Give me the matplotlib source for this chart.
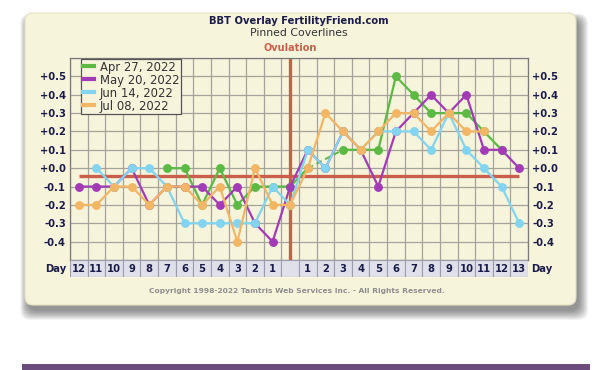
import matplotlib
matplotlib.use('Agg')
import matplotlib.pyplot as plt
import numpy as np
from matplotlib.patches import FancyBboxPatch, Rectangle
from matplotlib.lines import Line2D

nan = np.nan

# Day columns: 12 days before ovulation, ovulation day (blank), 13 days after
day_labels = ['12', '11', '10', '9', '8', '7', '6', '5', '4', '3', '2', '1', '',
              '1', '2', '3', '4', '5', '6', '7', '8', '9', '10', '11', '12', '13']
ov_index = 12

# Temperature offsets from coverline, per cycle
apr27 = [nan, nan, nan, nan, nan, 0.0, 0.0, -0.2, 0.0, -0.2, -0.1, -0.1,
         -0.1,
         0.0, nan, 0.1, 0.1, 0.1, 0.5, 0.4, 0.3, 0.3, 0.3, 0.2, 0.1, nan]
may20 = [-0.1, -0.1, -0.1, 0.0, -0.2, -0.1, -0.1, -0.1, -0.2, -0.1, -0.3, -0.4,
         -0.1,
         0.1, 0.0, 0.2, 0.1, -0.1, 0.2, 0.3, 0.4, 0.3, 0.4, 0.1, 0.1, 0.0]
jun14 = [nan, 0.0, -0.1, 0.0, 0.0, -0.1, -0.3, -0.3, -0.3, -0.3, -0.3, -0.1,
         -0.2,
         0.1, 0.0, 0.2, 0.1, 0.2, 0.2, 0.2, 0.1, 0.3, 0.1, 0.0, -0.1, -0.3]
jul08 = [-0.2, -0.2, -0.1, -0.1, -0.2, -0.1, -0.1, -0.2, -0.1, -0.4, 0.0, -0.2,
         -0.2,
         0.0, 0.3, 0.2, 0.1, 0.2, 0.3, 0.3, 0.2, 0.3, 0.2, 0.2, nan, nan]

series_names = ['Apr 27, 2022', 'May 20, 2022', 'Jun 14, 2022', 'Jul 08, 2022']
series_values = [apr27, may20, jun14, jul08]
series_colors = ['#5cb944', '#a23bb5', '#82d4f0', '#f2b665']

coverline = -0.045
y_ticks = [-0.5, -0.4, -0.3, -0.2, -0.1, 0.0, 0.1, 0.2, 0.3, 0.4, 0.5, 0.6]

cream = '#f7f4dc'
navy = '#1c1c4a'
red = '#c9604c'

fig = plt.figure(figsize=(6, 3.7), dpi=100)
fig.patch.set_facecolor('white')

# background layer in pixel coordinates
bg = fig.add_axes([0, 0, 1, 1])
bg.set_xlim(0, 600)
bg.set_ylim(370, 0)
bg.axis('off')

# soft drop shadow behind the card
for k in range(14):
    bg.add_patch(FancyBboxPatch((25 + 3 - k * 0.6, 13 + 6 - k * 0.4), 551 + k * 1.3, 292 + k * 1.1,
                                boxstyle='round,pad=0,rounding_size=10',
                                facecolor='black', edgecolor='none', alpha=0.035))
bg.add_patch(FancyBboxPatch((25, 13), 551, 292, boxstyle='round,pad=0,rounding_size=8',
                            facecolor=cream, edgecolor='#e4e0c4', lw=0.8))
bg.add_patch(Rectangle((22, 364), 568, 7, facecolor='#6c4c7c', edgecolor='none'))

bg.text(299, 21, 'BBT Overlay FertilityFriend.com', ha='center', va='center',
        fontsize=7.2, fontweight='bold', color=navy)
bg.text(299, 33, 'Pinned Coverlines', ha='center', va='center', fontsize=7.8, color='#333333')
bg.text(290, 48, 'Ovulation', ha='center', va='center', fontsize=7.0, fontweight='bold', color=red)
bg.text(297, 291, 'Copyright 1998-2022 Tamtris Web Services Inc. - All Rights Reserved.',
        ha='center', va='center', fontsize=5.4, fontweight='bold', color='#8e8e8e')

# main chart
ax = fig.add_axes([70 / 600, 1 - 260 / 370, 458 / 600, 202 / 370])
ax.set_facecolor(cream)
x = np.arange(len(day_labels))
ax.set_xlim(-0.5, len(day_labels) - 0.5)
ax.set_ylim(-0.5, 0.6)

for xv in np.arange(-0.5, len(day_labels), 1.0):
    ax.axvline(xv, color='#a4a49c', lw=0.9, zorder=0)
for yv in y_ticks:
    ax.axhline(yv, color='#a4a49c', lw=0.9, zorder=0)

ax.plot([x[0], x[-1]], [coverline, coverline], color=red, lw=2.4, zorder=1, solid_capstyle='butt')
ax.axvline(ov_index, color=red, lw=2.4, zorder=1)

for vals, col in zip(series_values, series_colors):
    v = np.array(vals, dtype=float)
    # dashed bridge over missing days
    valid = np.where(~np.isnan(v))[0]
    for a, b in zip(valid[:-1], valid[1:]):
        if b - a > 1:
            ax.plot([a, b], [v[a], v[b]], color=col, lw=1.4, ls=(0, (3, 2)), zorder=2)
    ax.plot(x, v, color=col, lw=1.6, marker='o', markersize=6.4, markeredgewidth=0, zorder=3)

ax.set_yticks(y_ticks)
ylabels = ['%+.1f' % t if -0.45 < t < 0.55 else '' for t in y_ticks]
ylabels = [s.replace('-0.0', '+0.0') for s in ylabels]
ax.set_yticklabels(ylabels)
ax.tick_params(axis='y', length=0, pad=3, labelleft=True, labelright=True,
               labelsize=7.2, labelcolor=navy)
for lab in ax.get_yticklabels():
    lab.set_fontweight('bold')
ax.set_xticks([])
for s in ax.spines.values():
    s.set_color('#7a7a7a')
    s.set_linewidth(0.9)

handles = [Line2D([], [], color=c, lw=3) for c in series_colors]
leg = ax.legend(handles, series_names, loc='upper left', bbox_to_anchor=(0.024, 0.996),
                borderaxespad=0, fontsize=8.4, handlelength=1.0, handletextpad=0.45,
                labelspacing=0.0, borderpad=0.15, fancybox=False, framealpha=1)
leg.get_frame().set_facecolor(cream)
leg.get_frame().set_edgecolor('#555555')
leg.get_frame().set_linewidth(0.9)
for t in leg.get_texts():
    t.set_color('#333333')

# day row under the chart
dax = fig.add_axes([70 / 600, 1 - 277 / 370, 458 / 600, 17 / 370])
dax.set_xlim(-0.5, len(day_labels) - 0.5)
dax.set_ylim(0, 1)
dax.axis('off')
for i, lab in enumerate(day_labels):
    dax.add_patch(Rectangle((i - 0.5, 0), 1, 1, facecolor='#e0e0ea', edgecolor='#9c9cae', lw=0.8))
    dax.text(i, 0.45, lab, ha='center', va='center', fontsize=7.2, fontweight='bold', color=navy)
dax.text(-0.7, 0.45, 'Day', ha='right', va='center', fontsize=7.2, fontweight='bold', color=navy)
dax.text(len(day_labels) - 0.3, 0.45, 'Day', ha='left', va='center', fontsize=7.2,
         fontweight='bold', color=navy)

fig.savefig('out.png', dpi=100, facecolor='white')
